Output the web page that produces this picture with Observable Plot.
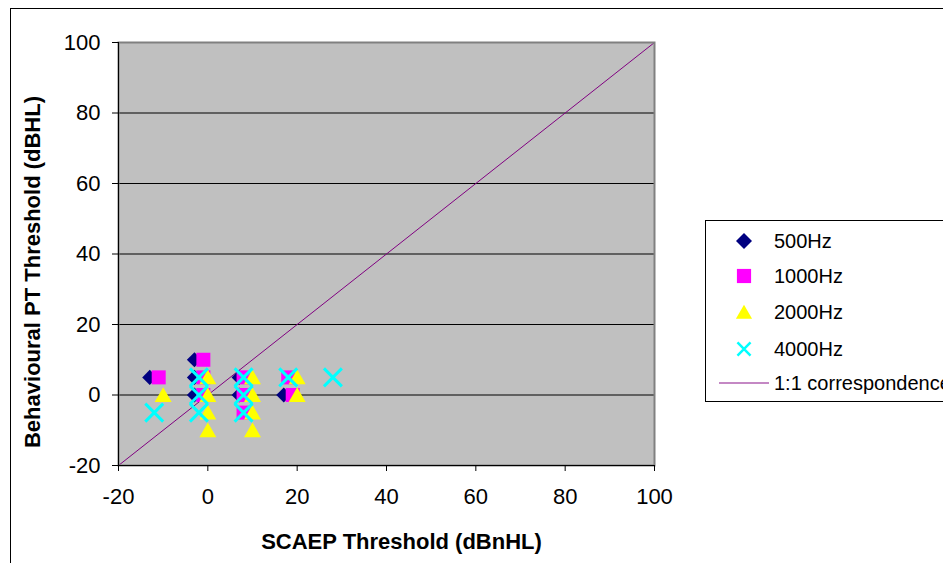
<!DOCTYPE html>
<html>
<head>
<meta charset="utf-8">
<script src="https://cdn.jsdelivr.net/npm/d3@7"></script>
<script src="https://cdn.jsdelivr.net/npm/@observablehq/plot@0.6"></script>
<style>
  html, body { margin: 0; padding: 0; background: #fff; overflow: hidden; width: 943px; height: 563px; }
  #wrap { position: relative; width: 943px; height: 563px; }
  #border { position: absolute; left: 10px; top: 8px; width: 2000px; height: 2000px; border: 1px solid #000; }
  #chart { position: absolute; left: 0; top: 0; }
  #legend { position: absolute; left: 705px; top: 220px; width: 400px; height: 180px; border: 1px solid #000; background: #fff; }
</style>
</head>
<body>
<div id="wrap">
  <div id="border"></div>
  <div id="chart"></div>
  <div id="legend"></div>
</div>
<script>
// ---- data ----
const xTicks = [-20, 0, 20, 40, 60, 80, 100];
const yTicks = [-20, 0, 20, 40, 60, 80, 100];
const gridY = [0, 20, 40, 60, 80];
const identityLine = [-20, 100];

const x500 = [-13, -3, -3, -3, 7, 7, 17];
const y500 = [5, 10, 5, 0, 5, 0, 0];

const x1000 = [-11, -1, -1, -1, 8, 8, 8, 18, 19];
const y1000 = [5, 10, 5, 0, 5, 0, -5, 5, 0];

const x2000 = [-10, 0, 0, 0, 0, 10, 10, 10, 10, 20, 20];
const y2000 = [0, 5, 0, -5, -10, 5, 0, -5, -10, 5, 0];

const x4000 = [-12, -2, -2, -2, 8, 8, 8, 18, 28];
const y4000 = [-5, 5, 0, -5, 5, 0, -5, 5, 5];

const seriesNames = ["500Hz", "1000Hz", "2000Hz", "4000Hz"];
const lineName = "1:1 correspondence";

const toPts = (xs, ys) => xs.map((x, i) => ({x, y: ys[i]}));
const p500 = toPts(x500, y500);
const p1000 = toPts(x1000, y1000);
const p2000 = toPts(x2000, y2000);
const p4000 = toPts(x4000, y4000);
const linePts = identityLine.map(v => ({x: v, y: v}));
const fmt = d => String(d);

const chart = Plot.plot({
  width: 943,
  height: 563,
  marginLeft: 118,
  marginRight: 289,
  marginTop: 42,
  marginBottom: 98,
  style: {fontFamily: "'Liberation Sans', Arial, sans-serif", fontSize: "22px", background: "transparent", color: "#000"},
  x: {domain: [-20, 100]},
  y: {domain: [-20, 100]},
  marks: [
    Plot.frame({fill: "#c0c0c0"}),
    Plot.ruleY(gridY, {stroke: "#000", strokeWidth: 1}),
    Plot.line(linePts, {x: "x", y: "y", stroke: "#800080", strokeWidth: 1}),
    Plot.dot(p500, {x: "x", y: "y", symbol: "diamond2", r: 6.8, fill: "#000080", stroke: "none"}),
    Plot.dot(p1000, {x: "x", y: "y", symbol: "square", r: 7.9, fill: "#ff00ff", stroke: "none"}),
    Plot.dot(p2000, {x: "x", y: "y", symbol: "triangle", r: 6.3, fill: "#ffff00", stroke: "none", dy: 2}),
    Plot.dot(p4000, {x: "x", y: "y", symbol: "times", r: 8.2, stroke: "#00ffff", strokeWidth: 3, fill: "none"}),
    Plot.frame({stroke: "#808080", strokeWidth: 2}),
    Plot.ruleX([-20], {stroke: "#000"}),
    Plot.ruleY([-20], {stroke: "#000"}),
    Plot.axisX({ticks: xTicks, tickFormat: fmt, tickSize: 6, tickPadding: 17, label: null, fontSize: 22}),
    Plot.axisY({ticks: yTicks, tickFormat: fmt, tickSize: 6, tickPadding: 12, label: null, fontSize: 22}),
    Plot.text(["SCAEP Threshold (dBnHL)"], {frameAnchor: "bottom", textAnchor: "middle", lineAnchor: "middle", dx: 15, dy: 76, fontWeight: "bold", fontSize: 22}),
    Plot.text(["Behavioural PT Threshold (dBHL)"], {frameAnchor: "left", textAnchor: "middle", lineAnchor: "middle", rotate: -90, dx: -86, dy: 18, fontWeight: "bold", fontSize: 22})
  ]
});
document.getElementById("chart").appendChild(chart);

// ---- legend ----
const leg = d3.select("#legend").append("svg").attr("width", 400).attr("height", 180)
  .style("font-family", "'Liberation Sans', Arial, sans-serif").style("font-size", "20px");
const rowsY = [20, 55, 91, 128, 162];
const legItems = [
  {name: seriesNames[0], sym: d3.symbolDiamond2, size: Math.PI * 7.2 * 7.2, fill: "#000080"},
  {name: seriesNames[1], sym: d3.symbolSquare, size: Math.PI * 8 * 8, fill: "#ff00ff"},
  {name: seriesNames[2], sym: d3.symbolTriangle, size: Math.PI * 6 * 6, fill: "#ffff00", dy: 2},
  {name: seriesNames[3], sym: d3.symbolTimes, size: Math.PI * 6 * 6, stroke: "#00ffff"}
];
legItems.forEach((it, i) => {
  const g = leg.append("g").attr("transform", `translate(38,${rowsY[i] + (it.dy || 0)})`);
  g.append("path").attr("d", d3.symbol(it.sym, it.size)())
    .attr("fill", it.fill || "none").attr("stroke", it.stroke || "none").attr("stroke-width", it.stroke ? 2.5 : 0);
  leg.append("text").attr("x", 68).attr("y", rowsY[i]).attr("dy", "0.35em").text(it.name);
});
leg.append("line").attr("x1", 13).attr("x2", 63).attr("y1", rowsY[4]).attr("y2", rowsY[4])
  .attr("stroke", "#b060b0").attr("stroke-width", 1.5);
leg.append("text").attr("x", 68).attr("y", rowsY[4]).attr("dy", "0.35em").text(lineName);
</script>
</body>
</html>
